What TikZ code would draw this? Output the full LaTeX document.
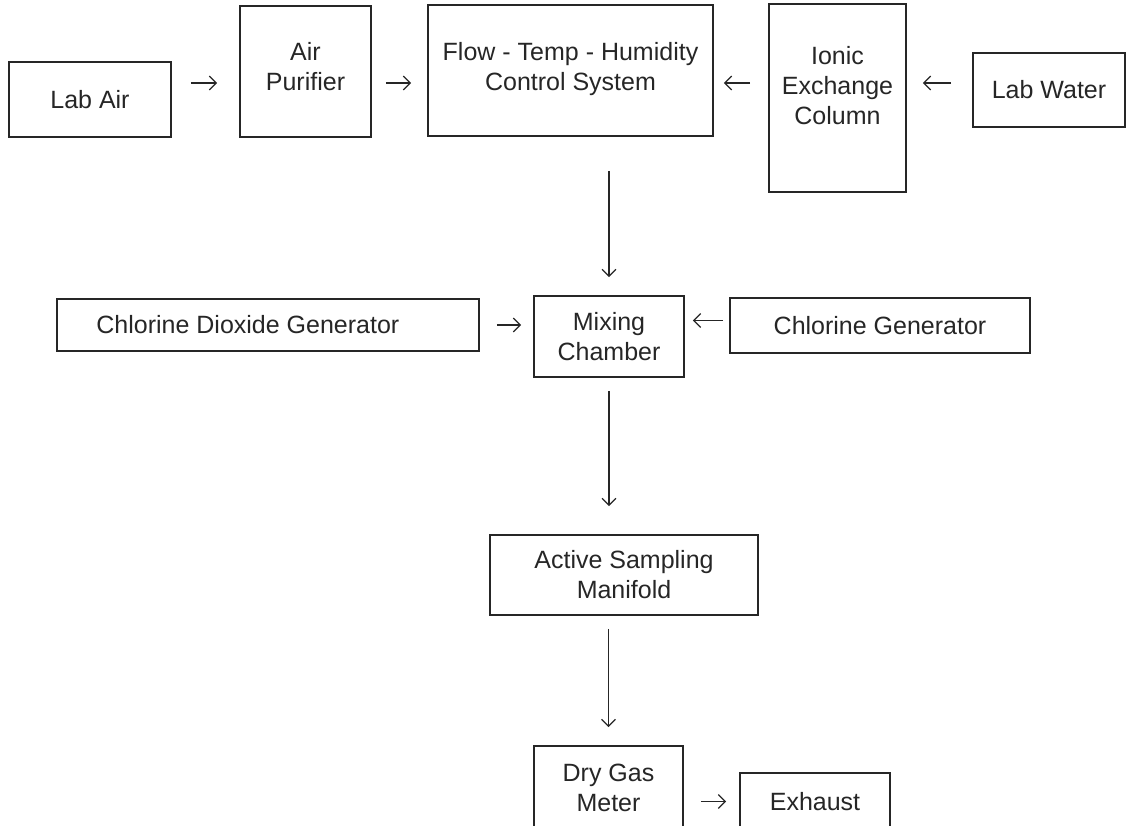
\documentclass[tikz,border=0pt]{standalone}
\usepackage{fontspec}
\setmainfont{Liberation Sans}
\usetikzlibrary{positioning,arrows.meta}

\begin{document}
\begin{tikzpicture}[x=1pt,y=-1pt,
    box/.style={draw=black!85, line width=1.6pt, inner sep=0pt, text=black!85,
      align=center, font=\fontsize{25}{30}\selectfont},
    txt/.style={inner sep=0pt, text=black!85, align=center, font=\fontsize{25}{30}\selectfont},
    arr/.style={draw=black!85, line width=1.3pt, -{Straight Barb[length=7pt,width=14pt]}}]
  \useasboundingbox (0,0) rectangle (1130,826);
  \coordinate (row) at (0,83);

  \node[box, minimum width=162pt, minimum height=75pt] (labair) at (90,99.5) {Lab Air};
  \node[box, minimum width=131pt, minimum height=131pt] (purifier) at (305.5,71.5) {};
  \node[box, minimum width=285pt, minimum height=131pt] (flow) at (570.5,70.5) {};
  \node[box, minimum width=137pt, minimum height=188pt] (ionic) at (837.5,98) {};
  \node[box, minimum width=152pt, minimum height=74pt] (labwater) at (1049,90) {Lab Water};
  \node[txt, below=37pt of purifier.north] (purifier-t) {Air\\Purifier};
  \node[txt, below=38pt of flow.north] (flow-t) {Flow - Temp - Humidity\\Control System};
  \node[txt, below=43pt of ionic.north] (ionic-t) {Ionic\\Exchange\\Column};

  \node[box, minimum width=422pt, minimum height=52pt] (clo2) at (268,325) {};
  \node[txt, right=40pt of clo2.west] (clo2-t) {Chlorine Dioxide Generator};
  \node[box, minimum width=150pt, minimum height=81pt] (mixing) at (609,336.5) {Mixing\\Chamber};
  \node[box, minimum width=300pt, minimum height=55pt] (cg) at (880,325.5) {Chlorine Generator};

  \node[box, minimum width=268pt, minimum height=80pt] (sampling) at (624,575) {Active Sampling\\Manifold};
  \node[box, minimum width=149pt, minimum height=84pt] (drygas) at (608.5,788) {Dry Gas\\Meter};
  \node[box, minimum width=150pt, minimum height=57pt] (exhaust) at (815,801.5) {Exhaust};

  \draw[arr, shorten <=19pt, shorten >=22pt] (labair.east |- row) -- (purifier.west |- row);
  \draw[arr, shorten <=14pt, shorten >=16pt] (purifier.east |- row) -- (flow.west |- row);
  \draw[arr, shorten <=18pt, shorten >=10pt] (ionic.west |- row) -- (flow.east |- row);
  \draw[arr, shorten <=21pt, shorten >=16pt] (labwater.west |- row) -- (ionic.east |- row);
  \draw[arr, shorten <=34pt, shorten >=18pt] (mixing.north |- flow.south) -- (mixing.north);
  \draw[arr, shorten <=17pt, shorten >=12pt] (clo2.east) -- (clo2.east -| mixing.west);
  \draw[arr, shorten <=6pt, shorten >=8pt] ([yshift=5pt]cg.west) -- ([yshift=5pt]cg.west -| mixing.east);
  \draw[arr, shorten <=13pt, shorten >=28pt] (mixing.south) -- (mixing.south |- sampling.north);
  \draw[arr, shorten <=13pt, shorten >=18pt] (drygas.north |- sampling.south) -- (drygas.north);
  \draw[arr, shorten <=17pt, shorten >=13pt] (drygas.east |- exhaust) -- (exhaust.west);
\end{tikzpicture}
\end{document}
